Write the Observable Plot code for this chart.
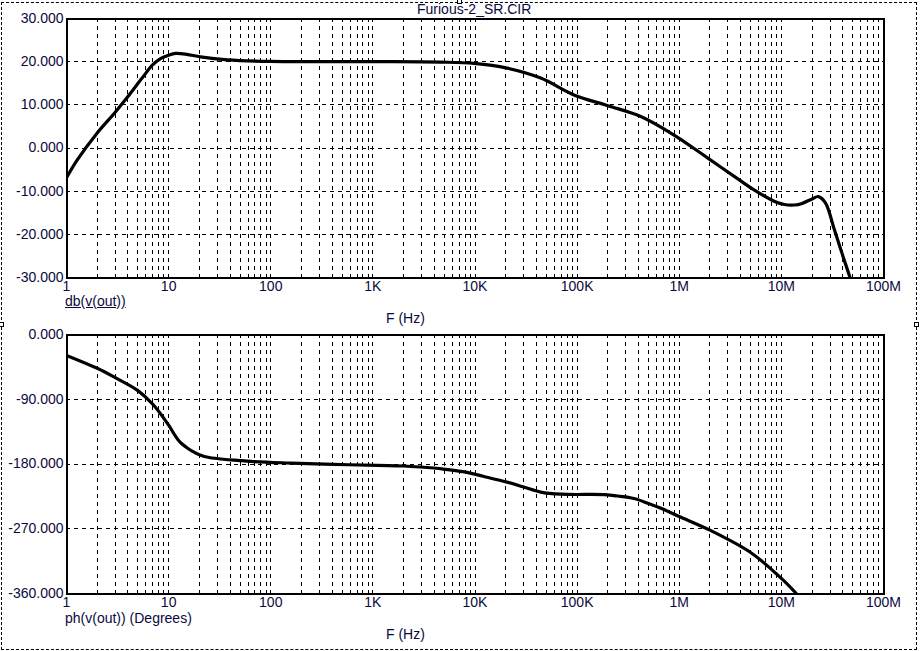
<!DOCTYPE html>
<html><head><meta charset="utf-8">
<script src="https://cdn.jsdelivr.net/npm/d3@7"></script>
<script src="https://cdn.jsdelivr.net/npm/@observablehq/plot@0.6"></script>
<style>
body{margin:0;background:#fff;}
#wrap{position:relative;width:921px;height:651px;overflow:hidden;font-family:"Liberation Sans",Arial,sans-serif;font-size:14px;color:#0a0a3c;background:#fff;}
.lbl{position:absolute;line-height:13px;white-space:nowrap;}
.plot{position:absolute;left:0;}
#border{position:absolute;left:1px;top:2px;width:916px;height:648px;border:1px dashed #000;box-sizing:border-box;}
.hdl{position:absolute;width:5px;height:5px;border:1px solid #000;background:#fff;box-sizing:border-box;}
</style></head><body>
<div id="wrap">
  <div id="border"></div>
  <div class="hdl" style="left:457px;top:-1px"></div>
  <div class="hdl" style="left:-1px;top:322px"></div>
  <div class="hdl" style="left:914px;top:322px"></div>
  <div class="plot" id="top" style="top:0px"></div>
  <div class="plot" id="bot" style="top:316px"></div>
  <div class="lbl" id="title" style="left:417px;top:3px">Furious-2_SR.CIR</div>
  <div class="lbl" id="ylab1" style="left:65px;top:295px;text-decoration:underline">db(v(out))</div>
  <div class="lbl" id="xlab1" style="left:386px;top:312px">F (Hz)</div>
  <div class="lbl" id="ylab2" style="left:65px;top:612px">ph(v(out)) (Degrees)</div>
  <div class="lbl" id="xlab2" style="left:386px;top:628px">F (Hz)</div>
</div>
<script>
// Magnitude response (dB)
const magFreq = [1, 1.28, 2.0, 3.0, 3.96, 5.5, 7.0, 8.5, 10, 11.7, 15, 20.5, 37.8, 100, 1000, 4600, 9800, 20600, 44000, 93000, 200000, 420000, 890000, 1.92e6, 4.1e6, 5.4e6, 8.6e6, 1.07e7, 1.35e7, 1.57e7, 2.0e7, 2.3e7, 2.7e7, 3.3e7, 4.0e7, 4.7e7];
const magDb   = [-6.9, -2.7, 3.5, 8.3, 11.8, 16.2, 19.3, 20.8, 21.5, 21.9, 21.7, 21.1, 20.4, 20.05, 20.0, 19.9, 19.6, 18.5, 16.2, 12.3, 9.8, 7.3, 3.0, -2.4, -7.8, -9.7, -12.4, -13.1, -13.2, -12.9, -11.8, -11.25, -12.7, -18.9, -25.0, -30.0];

// Phase response (degrees)
const phFreq = [1, 2, 3, 5, 7, 10, 11.5, 13, 15, 17, 20, 25, 63.7, 156, 410, 1100, 2000, 2900, 4900, 7900, 12000, 21000, 30000, 44000, 70000, 185000, 250000, 360000, 500000, 700000, 1e6, 2e6, 5e6, 1e7, 1.4e7];
const phDeg  = [-29, -47, -60, -78, -97, -126, -140, -150, -157, -162, -167, -171, -176.3, -178.7, -180.5, -182, -182.8, -184.2, -187, -191, -197, -205.5, -212, -219, -222, -222.6, -224.5, -228, -235, -243, -253, -272, -303, -339, -360];

// Axes
const xTickValues = [1, 10, 100, 1e3, 1e4, 1e5, 1e6, 1e7, 1e8];
const xTickLabels = ["1", "10", "100", "1K", "10K", "100K", "1M", "10M", "100M"];
const magTicks = [30, 20, 10, 0, -10, -20, -30];
const phTicks = [0, -90, -180, -270, -360];
const minorMult = [1, 2, 3, 4, 5, 6, 7, 8, 9];

const gridX = xTickValues.slice(0, -1).flatMap(d => minorMult.map(m => d * m)).concat([1e8]);
const textColor = "#0a0a3c";
const font = '"Liberation Sans", Arial, sans-serif';

function makePlot(freq, vals, yDomain, yTicks) {
  const data = freq.map((f, i) => ({f, v: vals[i]}));
  return Plot.plot({
    width: 921, height: 300,
    marginLeft: 66, marginRight: 38, marginTop: 18, marginBottom: 23,
    style: {fontFamily: font, fontSize: "14px", color: textColor, background: "transparent", overflow: "visible"},
    x: {type: "log", domain: [1, 1e8]},
    y: {domain: yDomain},
    marks: [
      Plot.ruleX(gridX, {stroke: "#000", strokeDasharray: "4,4", strokeWidth: 1, shapeRendering: "crispEdges"}),
      Plot.ruleY(yTicks, {stroke: "#000", strokeDasharray: "4,4", strokeWidth: 1, shapeRendering: "crispEdges"}),
      Plot.line(data, {x: "f", y: "v", stroke: "#000", strokeWidth: 3.2, curve: "catmull-rom", clip: true, strokeLinejoin: "round"}),
      Plot.frame({stroke: "#000", strokeWidth: 2, shapeRendering: "crispEdges"}),
      Plot.axisY(yTicks, {tickSize: 0, tickPadding: 3, tickFormat: d => d.toFixed(3), label: null, fill: textColor, fontSize: 14, fontFamily: font}),
      Plot.axisX(xTickValues, {tickSize: 0, tickPadding: 4, tickFormat: d => xTickLabels[xTickValues.indexOf(d)], label: null, fill: textColor, fontSize: 14, fontFamily: font})
    ]
  });
}

document.getElementById("top").appendChild(makePlot(magFreq, magDb, [-30, 30], magTicks));
document.getElementById("bot").appendChild(makePlot(phFreq, phDeg, [-360, 0], phTicks));
</script>
</body></html>
